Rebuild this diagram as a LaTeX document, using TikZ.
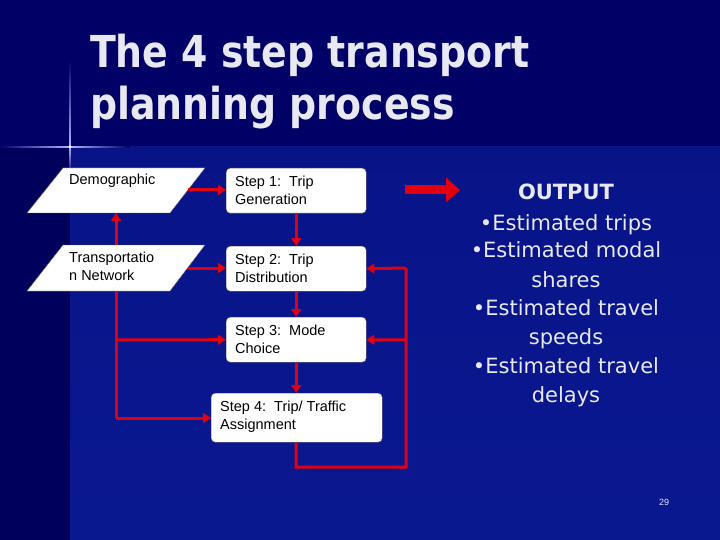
\documentclass[tikz,border=0pt]{standalone}
\usepackage{fontspec}
\setmainfont{Liberation Sans}
\newfontfamily\titlefont{DejaVu Sans}
\usetikzlibrary{arrows.meta}
\definecolor{navy}{HTML}{000066}
\definecolor{midblue}{HTML}{0A1890}
\definecolor{red1}{HTML}{E00010}
\definecolor{ttl}{HTML}{E8E8F2}
\tikzset{
 box/.style={draw=black!60,fill=white,rounded corners=4pt,minimum width=140pt,minimum height=45pt,anchor=north west,inner sep=0pt},
 boxtext/.style={font=\fontsize{14.5}{18}\selectfont,align=left,anchor=north west,inner sep=0pt},
 conn/.style={draw=red1,line width=3pt,-{Triangle[length=8pt,width=10pt]}},
 line/.style={draw=red1,line width=3pt},
 outtxt/.style={text=ttl,font=\titlefont\fontsize{21}{24}\selectfont,inner sep=0pt,anchor=base}
}
\begin{document}
\begin{tikzpicture}[x=1pt,y=-1pt]
\useasboundingbox (0,0) rectangle (720,540);
\fill[navy] (0,0) rectangle (720,540);
\shade[top color=midblue!80!navy,bottom color=midblue] (70,147) rectangle (720,540);
\fill[navy!90!black] (0,147) rectangle (70,540);
% cross star
\shade[left color=navy,right color=white!70!blue] (0,146.5) rectangle (70,147.5);
\shade[right color=navy,left color=white!70!blue] (70,146.5) rectangle (130,147.5);
\shade[top color=navy,bottom color=white!70!blue] (69.5,60) rectangle (70.5,147);
\shade[bottom color=navy,top color=white!70!blue] (69.5,147) rectangle (70.5,175);
\fill[white] (70,147) circle (1.5pt);
% title
\node[text=ttl,font=\titlefont\bfseries\fontsize{44}{52}\selectfont,align=left,anchor=north west,inner sep=0pt,xscale=0.86] (title) at (90,34) {The 4 step transport\\planning process};
% parallelograms
\fill[white,draw=black!60] (63,168) -- (205,168) -- (170,213) -- (27,213) -- cycle;
\fill[white,draw=black!60] (63,245) -- (205,245) -- (170,291) -- (27,291) -- cycle;
\coordinate (demo) at (116,190);
\coordinate (trans) at (116,268);
\node[boxtext] (demotext) at (69,174) {Demographic};
\node[boxtext] (transtext) at (69,252) {Transportatio\\n Network};
% boxes
\node[box] (s1) at (226,168) {};
\node[box] (s2) at (226,246) {};
\node[box] (s3) at (226,317) {};
\node[box,minimum width=171pt,minimum height=49pt] (s4) at (211,393) {};
\node[boxtext] (s1t) at (235,176) {Step 1:\ \ Trip\\Generation};
\node[boxtext] (s2t) at (235,254) {Step 2:\ \ Trip\\Distribution};
\node[boxtext] (s3t) at (235,325) {Step 3:\ \ Mode\\Choice};
\node[boxtext] (s4t) at (220,401) {Step 4:\ \ Trip/ Traffic\\Assignment};
% connectors
\draw[conn] (188,190) -- (s1.west |- 188,190);
\draw[conn] (188,268) -- (s2.west |- 188,268);
\draw[conn] (s1.south) -- (s2.north);
\draw[conn] (s2.south) -- (s3.north);
\draw[conn] (s3.south) -- (s3.south |- s4.north);
\draw[conn] (116,245) -- (116,213);
\draw[line] (116,291) -- (116,418);
\draw[conn] (116,340) -- (s3.west);
\draw[conn] (116,418) -- (s4.west |- 116,418);
\draw[line] (s4.south -| s3.south) -- (296,467) -- (406,467) -- (406,268);
\draw[conn] (406,268) -- (s2.east);
\draw[conn] (406,340) -- (s3.east);
% big arrow
\coordinate (ba) at (405,190);
\draw[red1,line width=9pt,-{Triangle[length=14pt,width=24pt]}] (ba) -- (460,190);
% output
\node[outtxt,font=\titlefont\bfseries\fontsize{21}{24}\selectfont] (out) at (566,200) {OUTPUT};
\node[outtxt] (o1) at (566,230) {•Estimated trips};
\node[outtxt] (o2) at (566,258) {•Estimated modal};
\node[outtxt] (o3) at (566,287) {shares};
\node[outtxt] (o4) at (566,315) {•Estimated travel};
\node[outtxt] (o5) at (566,344) {speeds};
\node[outtxt] (o6) at (566,373) {•Estimated travel};
\node[outtxt] (o7) at (566,402) {delays};
\node[text=ttl,font=\fontsize{9}{10}\selectfont] (pg) at (664,502) {29};
\end{tikzpicture}
\end{document}
